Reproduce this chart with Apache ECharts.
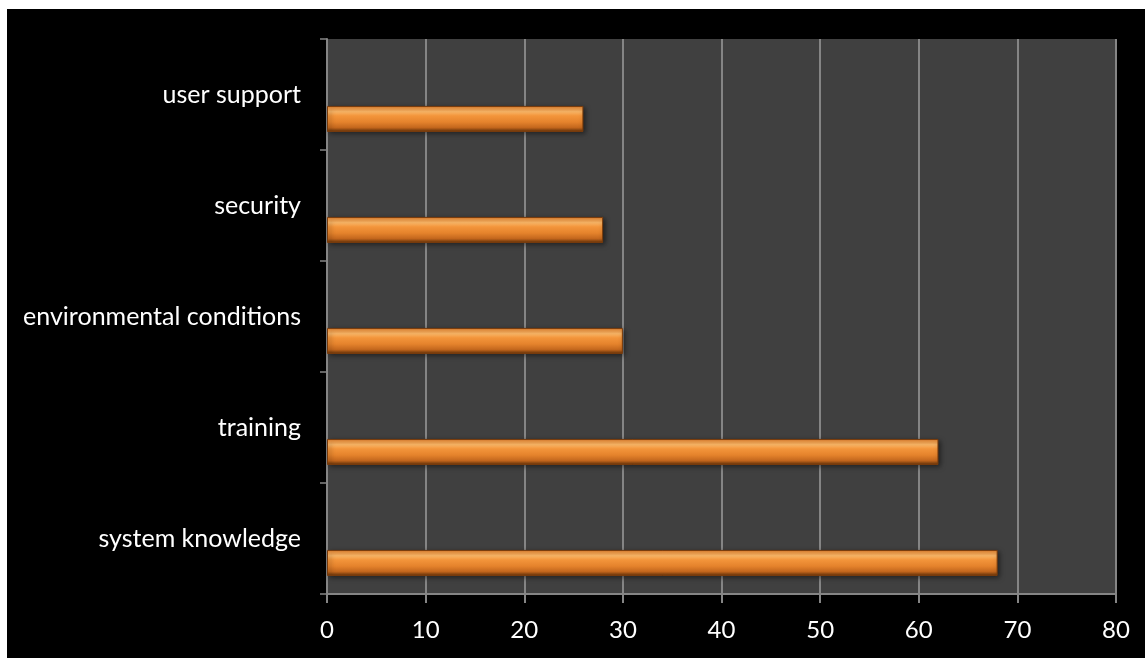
<!DOCTYPE html>
<html>
<head>
<meta charset="utf-8">
<script src="https://cdn.jsdelivr.net/npm/echarts@6/dist/echarts.min.js"></script>
<style>
  html, body { margin: 0; padding: 0; background: #ffffff; }
  #chart { position: absolute; left: 7px; top: 9px; width: 1138px; height: 649px; background: #000000; }
</style>
</head>
<body>
<div id="chart"></div>
<script>
// Categories listed bottom to top along the y axis
const categories = ['system knowledge', 'training', 'environmental conditions', 'security', 'user support'];
const values = [68, 62, 30, 28, 26];
const xTicks = [0, 10, 20, 30, 40, 50, 60, 70, 80];

const chart = echarts.init(document.getElementById('chart'));
const font = 'Lato, "Open Sans", sans-serif';
const grey = '#858585';

const barFill = new echarts.graphic.LinearGradient(0, 0, 0, 1, [
  { offset: 0.00, color: '#D47426' },
  { offset: 0.08, color: '#F59A45' },
  { offset: 0.22, color: '#FDB868' },
  { offset: 0.38, color: '#F3953B' },
  { offset: 0.62, color: '#E5832C' },
  { offset: 0.84, color: '#C2661D' },
  { offset: 0.92, color: '#8F4A12' },
  { offset: 1.00, color: '#6B3508' }
]);

chart.setOption({
  animation: false,
  grid: {
    left: 320, top: 30, right: 29, bottom: 64,
    show: true, backgroundColor: '#404040', borderWidth: 0
  },
  xAxis: {
    type: 'value',
    min: xTicks[0], max: xTicks[xTicks.length - 1], interval: 10,
    axisLine: { show: true, lineStyle: { color: grey, width: 2 } },
    axisTick: { show: true, length: 9, lineStyle: { color: grey, width: 2 } },
    splitLine: { show: true, lineStyle: { color: grey, width: 2 } },
    axisLabel: { color: '#ffffff', fontFamily: font, fontSize: 24, margin: 24 }
  },
  yAxis: {
    type: 'category',
    data: categories,
    axisLine: { show: true, lineStyle: { color: grey, width: 2 } },
    axisTick: { show: true, length: 7, lineStyle: { color: grey, width: 1.5 } },
    splitLine: { show: false },
    axisLabel: { color: '#ffffff', fontFamily: font, fontSize: 25, margin: 26 }
  },
  series: [
    {
      // spacer that pushes the visible bar towards the lower part of each band
      type: 'bar',
      data: values,
      barWidth: 26,
      barGap: '88%',
      itemStyle: { color: 'rgba(0,0,0,0)' },
      silent: true
    },
    {
      type: 'bar',
      data: values,
      barWidth: 26,
      barGap: '88%',
      itemStyle: {
        color: barFill,
        borderColor: '#7A3C0C',
        borderWidth: 1,
        shadowColor: 'rgba(0,0,0,0.55)',
        shadowBlur: 5,
        shadowOffsetX: 2,
        shadowOffsetY: 2
      }
    }
  ]
});
</script>
</body>
</html>
